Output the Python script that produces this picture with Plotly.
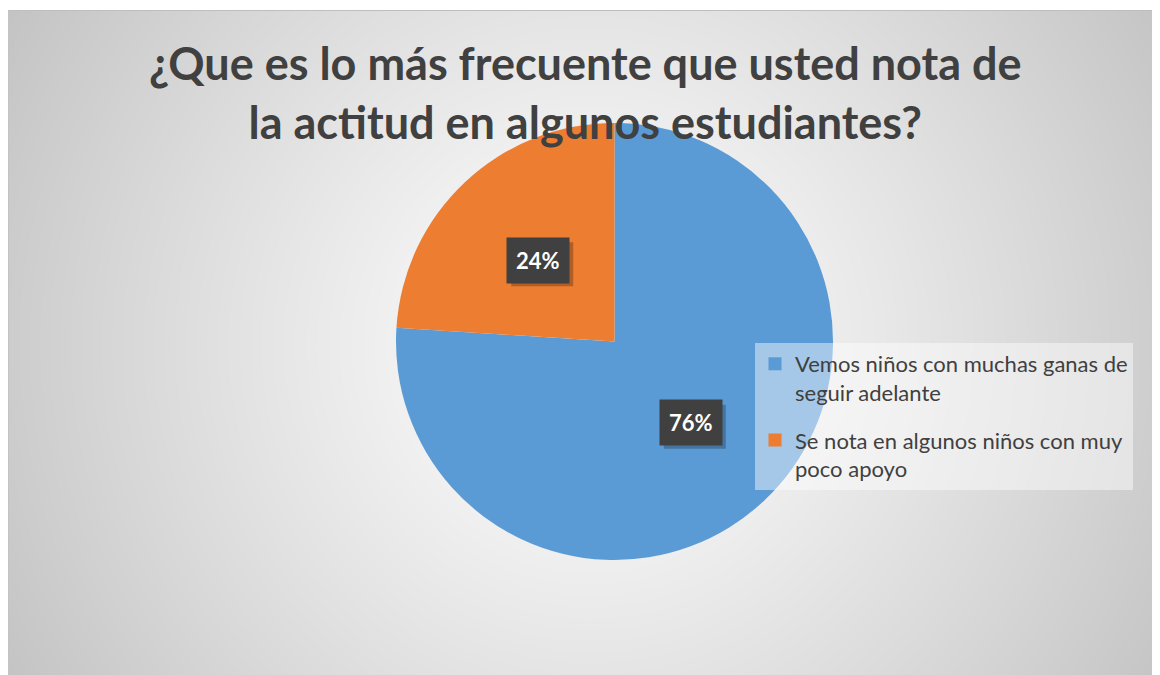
import base64, struct, zlib, math
import numpy as np
import plotly.graph_objects as go

# ---------------- data ----------------
title_lines = ["¿Que es lo más frecuente que usted nota de", "la actitud en algunos estudiantes?"]
labels = ["Vemos niños con muchas ganas de<br>seguir adelante",
          "Se nota en algunos niños con muy<br>poco apoyo"]
values = [76, 24]
colors = ["#5B9BD5", "#ED7D31"]

W, H = 1160, 675
OFF = 8  # page body margin: screen = figure + 8


def px(sx):
    return (sx - OFF) / W


def py(sy):
    return 1 - (sy - OFF) / H


# ---------------- background gradient (radial, Excel-like) ----------------
def make_png(arr):
    h, w = arr.shape
    raw = b"".join(b"\x00" + arr[i].tobytes() for i in range(h))

    def chunk(t, d):
        c = struct.pack(">I", len(d)) + t + d
        return c + struct.pack(">I", zlib.crc32(t + d) & 0xffffffff)
    png = b"\x89PNG\r\n\x1a\n"
    png += chunk(b"IHDR", struct.pack(">IIBBBBB", w, h, 8, 0, 0, 0, 0))
    png += chunk(b"IDAT", zlib.compress(raw, 9))
    png += chunk(b"IEND", b"")
    return "data:image/png;base64," + base64.b64encode(png).decode()


yy, xx = np.mgrid[0:H, 0:W].astype(float)
cx, cy = 590.0 - OFF, 345.0 - OFF
d = np.sqrt((xx - cx) ** 2 + (yy - cy) ** 2)
t = np.clip(d / 700.0, 0, 1) ** 1.15
bg = 255 - 62 * t
bg[:2, :] = 255
bg[2, :] = 190
bg[2:, 0] = 195
bg = np.clip(bg, 0, 255).astype(np.uint8)
bg_uri = make_png(bg)

# ---------------- figure ----------------
pcx, pcy, R = 614.5, 341.5, 218.5  # screen pixels
dom_x = [px(pcx - R), px(pcx + R)]
dom_y = [py(pcy + R), py(pcy - R)]

fig = go.Figure()
fig.add_trace(go.Pie(
    labels=[l.replace("<br>", " ") for l in labels], values=values, sort=False,
    direction="clockwise", rotation=0,
    marker=dict(colors=colors, line=dict(width=0)),
    textinfo="none", hoverinfo="label+percent", showlegend=False,
    domain=dict(x=dom_x, y=dom_y),
))
# legend entries (square swatches), one group per category
for i, (lab, col) in enumerate(zip(labels, colors)):
    fig.add_trace(go.Scatter(
        x=[None], y=[None], mode="markers", name=lab,
        marker=dict(symbol="square", size=13, color=col),
        legendgroup=f"g{i}", showlegend=True, hoverinfo="skip",
    ))

# data labels: dark boxes at ~0.51 R along the mid-angle of each slice
total = sum(values)
cum = 0
annotations = []
shapes = []
for v in values:
    mid = (cum + v / 2) / total * 2 * math.pi
    cum += v
    lx = pcx + 0.51 * R * math.sin(mid)
    ly = pcy - 0.51 * R * math.cos(mid)
    txt = f"<b>{round(v / total * 100)}%</b>"
    # soft shadow behind the label box
    shapes.append(dict(type="rect", xref="paper", yref="paper",
                       x0=px(lx - 31 + 4), x1=px(lx + 31 + 4),
                       y0=py(ly - 22 + 4), y1=py(ly + 22 + 4),
                       fillcolor="rgba(0,0,0,0.25)", line=dict(width=0)))
    annotations.append(dict(text=txt, bgcolor="#404040",
                            xref="paper", yref="paper", x=px(lx), y=py(ly),
                            xanchor="center", yanchor="middle",
                            showarrow=False, borderpad=9,
                            font=dict(family="Lato", size=22, color="white")))

annotations.append(dict(
    text="<b>" + "<br>".join(title_lines) + "</b>",
    xref="paper", yref="paper", x=px(585), y=py(92),
    xanchor="center", yanchor="middle",
    showarrow=False, align="center",
    font=dict(family="Lato", size=45, color="#404040"),
))

fig.update_layout(
    width=W, height=H,
    margin=dict(l=0, r=0, t=0, b=0),
    paper_bgcolor="white", plot_bgcolor="rgba(0,0,0,0)",
    xaxis=dict(visible=False), yaxis=dict(visible=False),
    images=[dict(source=bg_uri, xref="paper", yref="paper", x=0, y=1,
                 sizex=1, sizey=1, sizing="stretch", layer="below")],
    showlegend=True,
    legend=dict(x=px(755), y=py(343), xanchor="left", yanchor="top",
                bgcolor="rgba(255,255,255,0.45)",
                font=dict(family="Lato", size=22, color="#404040"),
                itemwidth=30, traceorder="grouped", tracegroupgap=16,
                valign="top"),
    shapes=shapes,
    annotations=annotations,
)

fig.write_html("out.html")
